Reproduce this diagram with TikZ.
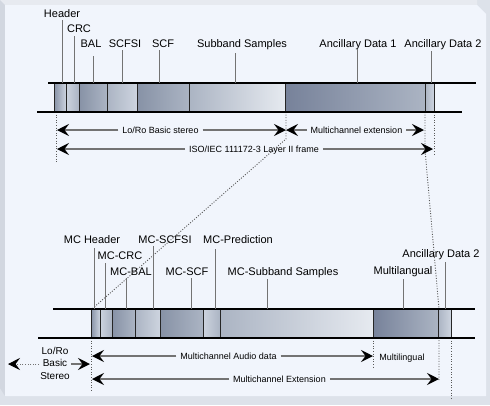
\documentclass[tikz,border=0pt]{standalone}
\usepackage{fontspec}
\setmainfont{Liberation Sans}
\usetikzlibrary{arrows.meta}
\definecolor{rim}{HTML}{DDE2EA}
\definecolor{rimlt}{HTML}{E7EAF0}
\definecolor{rimdk}{HTML}{D2D7E0}
\definecolor{panel}{HTML}{F1F5FC}
\definecolor{cdark}{HTML}{8792A6}
\definecolor{cdeep}{HTML}{77829A}
\definecolor{cmid}{HTML}{ABB4C3}
\definecolor{clight}{HTML}{CDD4DF}
\definecolor{cpale}{HTML}{E6EAF0}

\begin{document}
\begin{tikzpicture}[x=1pt,y=-1pt,
  lbl/.style={font=\fontsize{11}{13}\selectfont,inner sep=0pt,anchor=base},
  sml/.style={font=\fontsize{9}{11}\selectfont,inner xsep=4pt,inner ysep=0pt,text height=6.5pt,text depth=0pt},
  tick/.style={draw=black!55,line width=1pt},
  rail/.style={line width=1.8pt},
  cell/.style={draw=black!85,line width=0.7pt},
  dim/.style={draw=black!55,line width=1.5pt,-{Stealth[length=12pt,width=12pt,inset=4.5pt,black]}},
  guide/.style={draw=black!65,line width=0.9pt,dash pattern=on 1pt off 1.6pt}]
\useasboundingbox (0,0) rectangle (490,405);
\fill[rim] (0,0) rectangle (490,405);
\fill[rimlt] (0,0) -- (477,0) -- (477,5) -- (5,5) -- cycle;
\fill[rimdk] (0,0) -- (5,5) -- (5,396) -- (0,388) -- cycle;
\fill[panel] (5,5) -- (477,5) -- (486,14) -- (486,396) -- (5,396) -- cycle;

% dotted guides
\draw[guide] (56,112) -- (56,164);
\draw[guide] (286,112) -- (286,139) -- (92,309);
\draw[guide] (425,112) -- (425,150) -- (439,309) -- (439,381);
\draw[guide] (434,112) -- (434,156);
\draw[guide] (91,338) -- (91,392);
\draw[guide] (373,338) -- (373,367);
\draw[guide] (451,338) -- (451,398);

% layer II frame
\foreach \xa/\xb/\cl/\cr in {54/66/cdark/clight, 66/79/clight/cmid, 79/107/cdark/cmid,
    107/137/cmid/clight, 137/189/cdark/cmid, 189/285/cmid/cpale,
    285/425/cdeep/cmid, 425/434/cmid/clight}
  \shade[cell,left color=\cl,right color=\cr] (\xa,83) rectangle (\xb,112);
\draw[rail] (48,83) -- (476,83);
\draw[rail] (37,112) -- (462,112);

\foreach \nm/\txt/\lx/\ly/\kx/\ky in {hdr/Header/62/17/62/20, crc/CRC/79/32/74/36,
    bal/BAL/91/47/93/56, scfsi/SCFSI/125/47/122/50, scf/SCF/163/47/159/50,
    sbs/Subband Samples/242/47/235/53, anca/Ancillary Data 1/358/47/357/49,
    ancb/Ancillary Data 2/443/47/431/51}{
  \node[lbl] (\nm) at (\lx,\ly) {\txt};
  \coordinate (\nm-top) at (\kx,\ky);
  \coordinate (\nm-foot) at (\kx,83);
  \draw[tick] (\nm-top) -- (\nm-foot);
}

% multichannel frame
\foreach \xa/\xb/\cl/\cr in {91/100/cdark/clight, 100/112/clight/cmid, 112/135/cdark/cmid,
    135/160/cmid/clight, 160/203/cdark/cmid, 203/220/clight/cmid,
    220/373/cmid/cpale, 373/438/cdeep/cmid, 438/451/cmid/clight}
  \shade[cell,left color=\cl,right color=\cr] (\xa,309) rectangle (\xb,338);
\draw[rail] (53,309) -- (475,309);
\draw[rail] (38,338) -- (475,338);

\foreach \nm/\txt/\lx/\ly/\kx/\ky in {mchdr/MC Header/92/243/94/248, mccrc/MC-CRC/120/259/105/263,
    mcbal/MC-BAL/131/275/126/278, mcscfsi/MC-SCFSI/165/243/153/246,
    mcscf/MC-SCF/187/275/191/278, mcpred/MC-Prediction/238/243/215/249,
    mcsbs/MC-Subband Samples/283/275/267/279, mlang/Multilangual/403/274/403/279,
    mcanc/Ancillary Data 2/441/257/445/262}{
  \node[lbl] (\nm) at (\lx,\ly) {\txt};
  \coordinate (\nm-top) at (\kx,\ky);
  \coordinate (\nm-foot) at (\kx,309);
  \draw[tick] (\nm-top) -- (\nm-foot);
}

% extents
\coordinate (lrL) at (57,130);
\coordinate (lrR) at (286,130);
\coordinate (mceR) at (424,130);
\coordinate (isoL) at (57,149);
\coordinate (isoR) at (433,149);
\node[sml] (lrbs) at (160.5,130) {Lo/Ro Basic stereo};
\node[sml] (mce) at (356.5,130) {Multichannel extension};
\node[sml] (iso) at (254,149) {ISO/IEC 111172-3 Layer II frame};
\draw[dim] (lrbs.west) -- (lrL);
\draw[dim] (lrbs.east) -- (lrR);
\draw[dim] (mce.west) -- (lrR);
\draw[dim] (mce.east) -- (mceR);
\draw[dim] (iso.west) -- (isoL);
\draw[dim] (iso.east) -- (isoR);

\coordinate (mcaL) at (92,356);
\coordinate (mcaR) at (373,356);
\coordinate (mcxL) at (92,379);
\coordinate (mcxR) at (439,379);
\node[sml] (mca) at (228.5,356) {Multichannel Audio data};
\node[sml] (mling) at (402,357) {Multilingual};
\node[sml] (mcx) at (279.5,379) {Multichannel Extension};
\draw[dim] (mca.west) -- (mcaL);
\draw[dim] (mca.east) -- (mcaR);
\draw[dim] (mcx.west) -- (mcxL);
\draw[dim] (mcx.east) -- (mcxR);

\node[font=\fontsize{10}{12.5}\selectfont,align=center,inner sep=1pt] (lrs) at (55,363) {Lo/Ro\\Basic\\Stereo};
\coordinate (lrsL) at (8,364);
\coordinate (lrsR) at (90,364);
\draw[dim] (lrs.east |- lrsR) -- (lrsR);
\draw[dim,dash pattern=on 1pt off 1.6pt,line width=0.9pt] (lrs.west |- lrsL) -- (lrsL);
\end{tikzpicture}
\end{document}
